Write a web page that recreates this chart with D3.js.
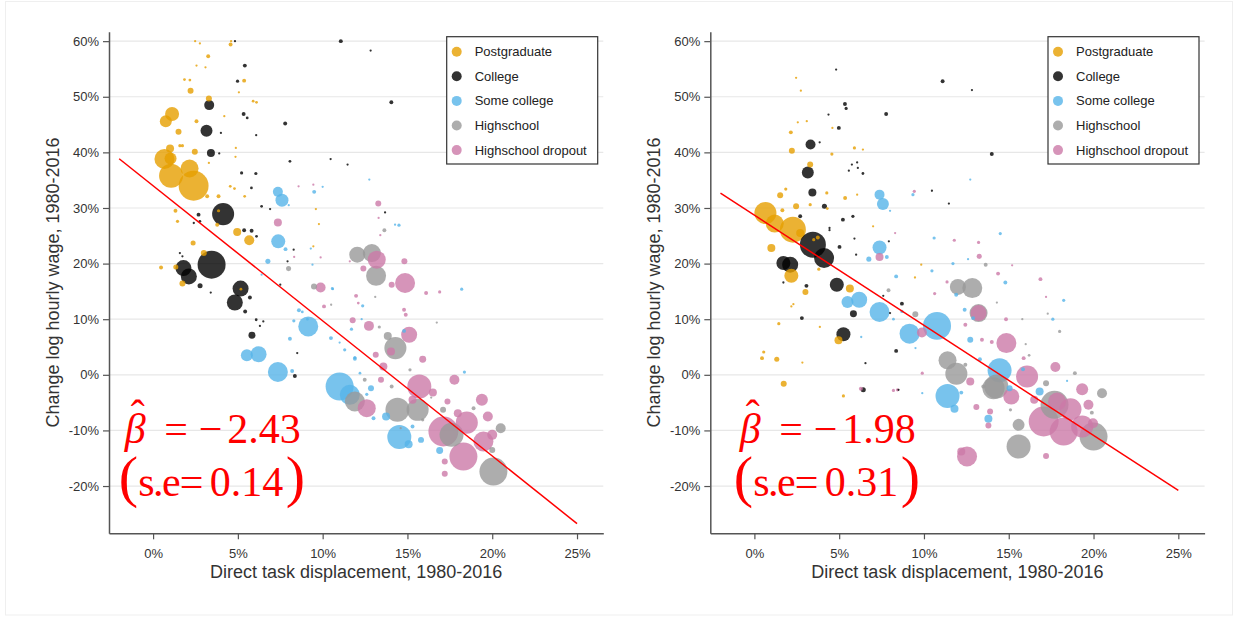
<!DOCTYPE html>
<html><head><meta charset="utf-8">
<script src="https://cdn.jsdelivr.net/npm/d3@7"></script>
<style>body{margin:0;background:#fff}</style>
</head><body><svg id="chart" width="1233" height="617"></svg>
<script>
const categories = ["Postgraduate","College","Some college","Highschool","Highschool dropout"];
const colors = ["#E69F00","#000000","#56B4E9","#999999","#CC79A7"];
const yTicks = [60,50,40,30,20,10,0,-10,-20];
const xTicks = [0,5,10,15,20,25];
const xTitle = "Direct task displacement, 1980-2016";
const yTitle = "Change log hourly wage, 1980-2016";

// Panel 1 — [x %, y %, employment weight]
const p1Postgraduate = [[2.48,60.0,0.02],[2.76,59.6,0.02],[4.57,59.4,0.06],[4.6,60.0,0.02],[3.25,57.3,0.06],[2.56,55.6,0.02],[3.09,55.3,0.02],[1.85,53.1,0.03],[2.17,53.0,0.03],[2.21,51.1,0.14],[3.29,49.7,0.14],[5.37,52.9,0.06],[5.06,50.8,0.02],[5.9,49.2,0.03],[6.1,49.0,0.03],[1.12,46.9,0.77],[0.75,45.6,0.56],[2.56,45.6,0.06],[1.5,43.7,0.14],[1.58,41.2,0.04],[1.73,41.2,0.04],[1.0,40.7,0.25],[2.46,40.1,0.14],[4.2,46.5,0.02],[4.88,40.8,0.02],[4.86,39.2,0.02],[0.67,38.8,1.56],[1.03,38.9,0.56],[1.06,35.8,2.25],[2.15,37.1,1.27],[2.39,34.0,3.5],[3.29,38.1,0.02],[3.19,32.1,0.06],[3.86,32.1,0.06],[4.55,33.9,0.03],[4.8,33.5,0.03],[5.4,32.1,0.03],[1.32,29.5,0.06],[1.44,27.6,0.04],[3.86,29.5,0.04],[3.78,27.0,0.06],[4.96,25.7,0.25],[5.67,24.2,0.39],[2.36,23.7,0.1],[2.99,21.9,0.14],[0.47,19.3,0.06],[1.34,19.4,0.1],[1.73,16.4,0.14],[5.18,15.4,0.03],[9.6,29.8,0.02],[9.78,27.1,0.02],[9.45,23.1,0.02]];
const p1College = [[4.83,60.0,0.02],[5.41,55.6,0.06],[4.98,52.8,0.04],[3.31,48.5,0.39],[5.34,46.9,0.06],[5.55,46.2,0.03],[7.79,45.2,0.06],[3.15,43.9,0.56],[4.0,43.5,0.02],[6.08,43.1,0.02],[3.41,39.9,0.25],[3.9,39.8,0.02],[8.07,38.4,0.03],[5.22,36.3,0.04],[6.06,36.2,0.04],[5.8,33.6,0.03],[6.4,30.3,0.03],[6.9,29.8,0.02],[4.13,28.9,1.9],[2.68,28.8,0.06],[2.76,27.6,0.03],[2.4,27.3,0.02],[5.37,26.0,0.06],[5.81,25.9,0.06],[6.1,24.9,0.03],[1.79,19.2,1.0],[2.11,17.7,1.0],[3.45,19.8,3.06],[1.58,21.9,0.02],[1.73,21.3,0.02],[2.77,16.0,0.1],[3.4,14.8,0.02],[5.16,15.5,1.0],[4.82,13.0,1.0],[5.71,13.9,0.06],[5.43,11.4,0.06],[6.08,9.9,0.03],[5.83,7.1,0.19],[6.5,9.6,0.02],[8.36,-0.2,0.06],[8.29,22.5,0.02],[7.5,16.2,0.02],[7.93,20.4,0.02],[11.07,60.0,0.06],[12.83,58.3,0.02],[14.05,49.0,0.06],[10.47,38.8,0.02],[11.47,37.8,0.02],[13.68,29.2,0.02],[8.5,3.9,0.02],[6.3,8.8,0.02]];
const p1SomeCollege = [[7.36,32.9,0.39],[7.6,31.4,0.66],[8.0,30.5,0.02],[9.5,32.9,0.06],[10.0,33.8,0.02],[12.75,35.1,0.02],[7.38,24.0,0.77],[7.81,22.6,0.06],[6.77,20.4,0.1],[9.3,22.7,0.02],[9.4,19.8,0.02],[14.5,26.9,0.04],[14.27,27.0,0.02],[9.15,8.7,1.56],[8.6,11.6,0.06],[8.3,9.7,0.04],[9.1,10.0,0.03],[8.8,11.3,0.03],[8.07,6.5,0.06],[5.53,3.5,0.56],[6.22,3.7,1.0],[7.36,0.5,1.56],[8.2,0.7,0.06],[10.49,6.6,0.06],[11.0,5.8,0.02],[11.9,2.9,0.06],[11.3,4.5,0.04],[10.57,15.5,0.035],[11.7,8.2,0.04],[12.36,12.4,0.04],[11.9,3.1,0.04],[12.2,0.3,0.03],[11.0,-2.1,3.06],[11.6,-3.6,1.56],[12.85,-2.4,0.14],[12.6,-3.5,0.04],[14.52,-11.2,2.25],[15.07,-12.5,0.25],[15.8,-11.7,0.14],[16.9,-13.6,0.19],[13.74,-7.5,0.25],[15.3,-9.3,0.06],[14.8,7.9,0.06],[18.2,15.4,0.04],[18.36,0.5,0.04],[13.0,-7.8,0.06],[10.6,15.4,0.02],[12.3,10.0,0.02],[6.4,18.0,0.02]];
const p1Highschool = [[12.04,21.6,1.0],[12.9,21.9,1.27],[13.15,17.8,1.56],[13.64,26.0,0.06],[13.84,7.0,0.25],[14.29,4.8,1.9],[14.41,-6.3,2.25],[15.6,-6.3,1.9],[11.9,-4.8,1.56],[17.6,-10.8,2.25],[20.07,-17.4,3.06],[20.5,-9.6,0.39],[17.1,-6.3,0.14],[18.9,-6.0,0.06],[20.0,-13.5,0.14],[14.07,-2.1,0.06],[15.15,0.9,0.04],[13.34,8.6,0.04],[16.73,9.4,0.02],[9.49,15.9,0.14],[7.99,19.1,0.1],[12.48,-0.9,0.06],[13.1,14.0,0.02],[10.5,12.6,0.02],[15.9,-8.1,0.04],[16.4,-4.1,0.02],[14.6,-9.6,0.02]];
const p1Dropout = [[13.28,30.8,0.14],[13.19,20.7,1.27],[14.86,16.5,1.56],[14.82,20.4,0.14],[14.07,16.2,0.14],[12.4,19.1,0.14],[16.1,14.7,0.06],[16.9,14.9,0.04],[11.97,14.2,0.06],[14.8,11.7,0.06],[14.9,10.8,0.06],[11.77,9.8,0.14],[12.73,8.8,0.39],[15.1,7.2,1.0],[14.03,4.2,0.25],[13.13,3.6,0.14],[15.9,2.8,0.19],[13.58,1.5,0.25],[15.7,-2.1,2.25],[16.5,-3.2,0.25],[17.77,-0.9,0.39],[17.36,-4.8,0.14],[19.39,-4.5,0.56],[19.74,-7.5,0.39],[18.5,-8.6,1.9],[19.48,-12.0,1.56],[17.12,-10.2,3.5],[18.3,-14.7,3.06],[17.97,-6.9,0.25],[20.0,-10.8,0.39],[17.2,-15.6,0.14],[17.2,-17.8,0.14],[12.6,-6.0,1.27],[13.44,-0.9,0.14],[15.3,-4.5,0.25],[7.36,27.4,0.25],[8.58,33.9,0.02],[9.45,34.2,0.02],[8.32,21.2,0.02],[9.88,15.7,0.39],[10.08,12.3,0.06],[9.88,21.1,0.02],[11.6,20.4,0.02],[13.3,28.2,0.02],[13.4,25.1,0.02],[12.1,12.9,0.03]];

// Panel 2 — [x %, y %, employment weight]
const p2Postgraduate = [[2.46,53.4,0.02],[2.74,51.1,0.02],[3.09,45.6,0.02],[2.56,45.4,0.02],[2.15,43.6,0.06],[2.21,40.3,0.14],[4.6,44.4,0.02],[4.57,39.7,0.04],[5.9,40.8,0.04],[6.4,40.5,0.02],[3.29,37.8,0.14],[1.85,33.4,0.04],[1.52,32.3,0.14],[1.65,29.6,0.06],[2.46,30.3,0.14],[3.29,30.6,0.04],[0.65,29.1,1.9],[1.2,27.2,1.27],[2.27,26.1,2.64],[2.7,25.5,0.25],[1.0,22.8,0.25],[5.35,31.8,0.06],[4.27,32.7,0.04],[6.06,32.4,0.02],[2.18,17.8,0.77],[3.01,14.9,0.14],[3.8,19.0,0.04],[5.63,15.5,0.25],[4.96,6.2,0.25],[1.44,9.2,0.04],[0.55,4.1,0.04],[0.45,3.0,0.06],[1.32,2.8,0.1],[1.73,-1.6,0.14],[2.83,2.2,0.02],[3.86,8.6,0.02],[5.25,-3.8,0.04],[2.18,12.3,0.02],[2.3,12.7,0.02],[9.47,17.5,0.02],[9.84,19.8,0.02],[4.3,29.9,0.03],[3.74,24.7,0.06],[3.5,24.3,0.04],[7.0,26.7,0.02]];
const p2College = [[4.82,54.9,0.02],[5.34,48.7,0.06],[5.41,47.9,0.04],[4.37,46.8,0.02],[7.77,46.9,0.06],[4.98,44.4,0.06],[3.31,41.4,0.39],[3.85,41.8,0.02],[3.15,36.4,0.56],[3.42,32.8,0.25],[5.75,37.8,0.02],[6.06,38.2,0.02],[6.1,37.2,0.02],[5.57,36.7,0.02],[6.4,36.2,0.03],[4.13,30.3,0.1],[2.7,28.5,0.06],[5.22,27.9,0.06],[5.81,28.5,0.04],[4.43,26.4,0.02],[4.43,26.0,0.02],[5.02,23.0,0.06],[3.45,23.4,2.64],[4.11,21.0,1.56],[2.11,19.8,1.0],[1.71,20.1,0.77],[4.86,16.2,0.77],[3.07,16.0,0.06],[1.71,16.6,0.02],[8.7,12.8,0.06],[2.8,10.2,0.06],[5.84,11.0,0.19],[5.25,7.3,0.77],[6.55,2.1,0.02],[6.42,-2.7,0.1],[8.36,4.3,0.06],[8.0,11.1,0.02],[14.0,39.7,0.06],[11.47,30.8,0.02],[10.47,33.1,0.02],[7.93,24.0,0.02],[11.1,52.8,0.06],[12.83,51.2,0.02],[5.9,24.5,0.02],[6.0,21.6,0.02],[7.6,14.2,0.02],[8.5,-2.7,0.02]];
const p2SomeCollege = [[7.38,32.4,0.39],[7.58,30.7,0.56],[8.0,29.5,0.02],[7.38,22.9,0.77],[7.81,21.2,0.06],[6.75,20.8,0.1],[8.36,17.7,0.06],[5.49,13.1,0.56],[6.18,13.5,1.0],[7.38,11.3,1.56],[9.15,7.4,1.56],[10.77,8.8,3.06],[8.7,11.4,0.04],[8.2,10.0,0.03],[12.73,6.3,0.14],[11.39,-3.8,2.25],[11.8,-6.1,0.25],[12.2,-3.2,0.06],[9.9,-3.3,0.02],[9.35,32.4,0.04],[12.73,35.1,0.02],[10.47,18.7,0.04],[11.71,20.0,0.04],[10.6,24.6,0.04],[11.9,14.4,0.06],[13.8,-7.9,0.25],[14.46,0.8,2.25],[16.82,-3.0,0.25],[15.05,-2.4,0.14],[15.84,1.0,0.06],[14.8,16.6,0.06],[12.9,10.2,0.06],[18.24,13.4,0.04],[12.4,11.7,0.06],[17.6,10.0,0.04],[18.44,-1.1,0.02],[14.5,25.4,0.04],[12.6,20.8,0.02],[6.3,6.8,0.02],[9.5,4.8,0.02],[13.3,2.8,0.06]];
const p2Highschool = [[12.0,15.8,1.0],[12.85,15.6,1.56],[13.22,11.1,1.27],[9.49,10.9,0.14],[11.39,2.6,1.27],[11.91,0.2,1.9],[14.1,-2.4,1.9],[14.27,-2.1,2.25],[13.64,19.8,0.06],[7.91,15.2,0.06],[15.58,-9.0,0.56],[15.58,-12.9,2.25],[17.2,-1.5,0.14],[17.7,-5.4,3.06],[20.0,-11.1,3.06],[20.5,-3.3,0.39],[18.9,0.3,0.06],[18.0,7.8,0.04],[12.44,1.8,0.06],[13.5,-2.1,0.06],[19.9,-6.8,0.06],[14.3,13.0,0.02],[15.8,10.0,0.02],[16.2,3.5,0.03],[16.0,5.5,0.02],[17.3,11.0,0.02],[15.1,-6.3,0.04]];
const p2Dropout = [[13.26,21.3,0.1],[14.37,18.2,0.06],[16.87,17.2,0.06],[13.22,11.1,1.0],[12.44,9.0,0.06],[14.84,10.0,0.06],[14.86,5.7,1.56],[13.42,6.3,0.06],[14.0,5.9,0.06],[15.88,3.0,0.06],[17.75,1.4,0.39],[16.08,-0.3,1.9],[12.73,-1.2,0.25],[15.15,-3.9,1.0],[13.9,-6.6,0.14],[13.8,-9.1,0.14],[16.5,-4.5,0.25],[19.33,-2.6,0.56],[19.7,-5.4,0.39],[19.97,-8.7,0.39],[19.33,-9.3,1.9],[18.24,-10.2,3.06],[17.06,-8.4,3.5],[18.64,-6.2,1.9],[17.85,-4.8,1.27],[17.2,-14.6,0.14],[12.54,-14.7,1.56],[12.2,-13.8,0.25],[7.38,21.2,0.25],[9.88,7.6,0.39],[13.09,-5.8,0.14],[6.28,-2.5,0.06],[8.44,-2.7,0.04],[10.63,14.6,0.04],[11.36,16.7,0.04],[11.79,24.2,0.04],[13.22,23.8,0.04],[9.43,33.0,0.04],[8.3,25.5,0.02],[9.9,0.3,0.04],[8.2,-2.8,0.04],[15.2,19.7,0.02],[17.2,14.0,0.02]];

const betas = ["\u22122.43","\u22121.98"];
const stdErrs = ["0.14","0.31"];
const intercepts = [34.0, 28.7];
const slopes = [-2.43, -1.98];
const fitRange = [-2, 25];

const panels = [
  {series:[p1Postgraduate,p1College,p1SomeCollege,p1Highschool,p1Dropout]},
  {series:[p2Postgraduate,p2College,p2SomeCollege,p2Highschool,p2Dropout]}
];

const svg = d3.select("#chart");
svg.append("rect").attr("x",5.5).attr("y",1.5).attr("width",1227).attr("height",613.5)
  .attr("fill","#fff").attr("stroke","#efefef");

const W = 494.3, H = 501.6, TOP = 31.7;
const lefts = [109, 710.3];
const textOx = [121.7, 736.7];
const x = d3.scaleLinear().domain([-2.6, 26.55]).range([0, W]);
const y = d3.scaleLinear().domain([-28.5, 61.7]).range([H, 0]);
const r = d3.scaleSqrt().domain([0, 1]).range([0, 8]);
const sansFont = "'Liberation Sans', Arial, sans-serif";
const serifFont = "'Liberation Serif', 'Times New Roman', serif";

panels.forEach((p, i) => {
  const g = svg.append("g").attr("transform", `translate(${lefts[i]},${TOP})`);
  // grid
  g.append("g").selectAll("line").data(yTicks).join("line")
    .attr("x1", 0).attr("x2", W).attr("y1", d => y(d)).attr("y2", d => y(d))
    .attr("stroke", "#e7e7e7").attr("stroke-width", 1.2);
  // points
  const pts = [];
  p.series.forEach((s, k) => s.forEach(d => pts.push({x:d[0], y:d[1], w:d[2], k})));
  pts.sort((a, b) => b.w - a.w);
  g.append("g").selectAll("circle").data(pts).join("circle")
    .attr("cx", d => x(d.x)).attr("cy", d => y(d.y)).attr("r", d => r(d.w))
    .attr("fill", d => colors[d.k]).attr("fill-opacity", 0.8);
  // fit line
  g.append("line")
    .attr("x1", x(fitRange[0])).attr("y1", y(intercepts[i] + slopes[i]*fitRange[0]))
    .attr("x2", x(fitRange[1])).attr("y2", y(intercepts[i] + slopes[i]*fitRange[1]))
    .attr("stroke", "#ff0000").attr("stroke-width", 1.5);
  // axes
  const ya = g.append("g").call(d3.axisLeft(y).tickValues(yTicks).tickFormat(d => d + "%").tickSize(6).tickSizeOuter(0).tickPadding(4));
  const xa = g.append("g").attr("transform", `translate(0,${H})`)
    .call(d3.axisBottom(x).tickValues(xTicks).tickFormat(d => d + "%").tickSize(6).tickSizeOuter(0).tickPadding(9));
  [ya, xa].forEach(a => {
    a.select(".domain").attr("stroke", "#555").attr("stroke-width", 1.5);
    a.selectAll(".tick line").attr("stroke", "#555").attr("stroke-width", 1.2);
    a.selectAll(".tick text").attr("fill", "#333").style("font-family", sansFont).style("font-size", "13px");
  });
  // titles
  g.append("text").attr("x", W/2).attr("y", 546.3)
    .attr("text-anchor", "middle").attr("fill", "#333")
    .style("font-family", sansFont).style("font-size", "18px").text(xTitle);
  g.append("text").attr("transform", `translate(${59 - 109},${H/2}) rotate(-90)`)
    .attr("text-anchor", "middle").attr("fill", "#333")
    .style("font-family", sansFont).style("font-size", "18px").text(yTitle);
  // legend
  const lg = g.append("g").attr("transform", `translate(${446.7 - 109},${36.7 - TOP})`);
  lg.append("rect").attr("width", 151).attr("height", 127.3).attr("fill", "#fff")
    .attr("stroke", "#333").attr("stroke-width", 1.2);
  categories.forEach((c, k) => {
    const yy = 15 + k * 24.6;
    lg.append("circle").attr("cx", 10).attr("cy", yy).attr("r", 5)
      .attr("fill", colors[k]).attr("fill-opacity", 0.8);
    lg.append("text").attr("x", 28).attr("y", yy + 4.6).attr("fill", "#222")
      .style("font-family", sansFont).style("font-size", "13px").text(c);
  });
  // annotation: beta-hat and standard error
  const ox = textOx[i];
  const l1 = svg.append("text").attr("y", 443).attr("fill", "#ff0000")
    .style("font-family", serifFont).style("font-size", "42px");
  l1.append("tspan").attr("x", ox + 3).style("font-style", "italic").text("\u03B2");
  l1.append("tspan").attr("x", ox + 42.5).text("=");
  l1.append("tspan").attr("x", ox + 77).text(betas[i][0]);
  l1.append("tspan").attr("x", ox + 105.5).text(betas[i].slice(1));
  l1.append("tspan").attr("x", ox + 9).attr("y", 429).text("\u02C6");
  const l2 = svg.append("text").attr("y", 496).attr("fill", "#ff0000")
    .style("font-family", serifFont).style("font-size", "42px");
  l2.append("tspan").attr("x", ox - 3).style("font-size", "58px").text("(");
  l2.append("tspan").attr("x", ox + 16.5).style("letter-spacing", "-1.5px").text("s.e");
  l2.append("tspan").attr("x", ox + 58).text("=");
  l2.append("tspan").attr("x", ox + 88).text(stdErrs[i]);
  l2.append("tspan").attr("x", ox + 164).style("font-size", "58px").text(")");
});
</script></body></html>
